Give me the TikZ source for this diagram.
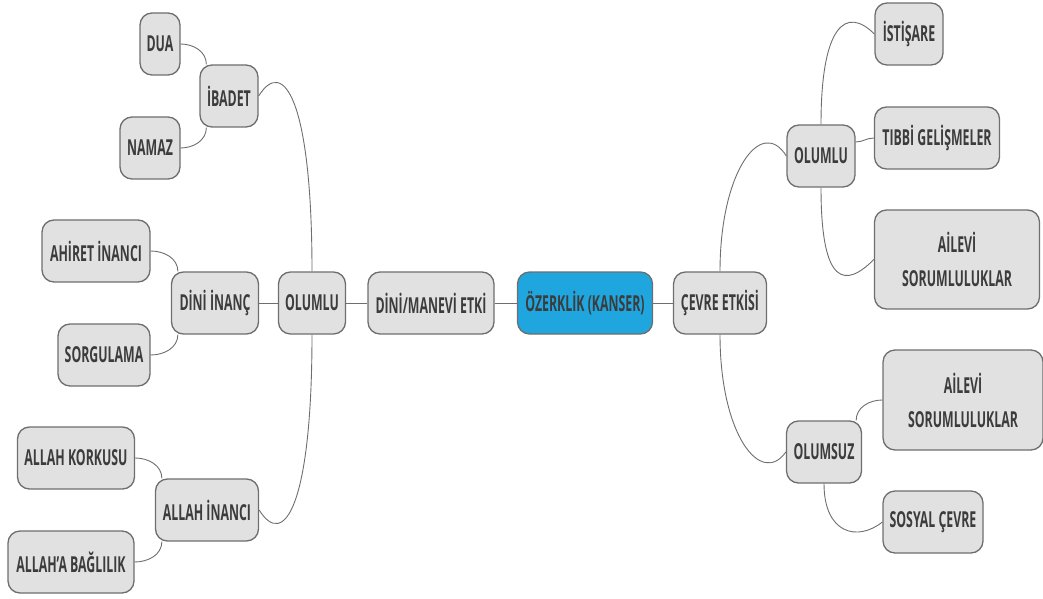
\documentclass[tikz,border=0pt]{standalone}
\usepackage{fontspec}
\setmainfont{Open Sans}[FakeStretch=0.56]
\definecolor{boxfill}{HTML}{E1E1E1}
\definecolor{boxline}{HTML}{6E6E6E}
\definecolor{boxtext}{HTML}{3C3C3C}
\definecolor{rootfill}{HTML}{1FA6DE}
\begin{document}
\begin{tikzpicture}[x=1pt, y=1pt, thin]
\useasboundingbox (0,0) rectangle (1043,598);
\tikzstyle{topic} = [rectangle, rounded corners=12pt, fill=boxfill, draw=boxline, line width=1.3pt, text=boxtext, minimum height=62pt, inner sep=2pt, align=center, font=\bfseries\fontsize{22}{26}\selectfont]
\tikzstyle{root} = [topic, fill=rootfill]
\tikzstyle{link} = [draw=boxline, line width=0.9pt]
% middle row
\node[root] (1) at (585,295) [minimum width=135pt] {ÖZERKLİK (KANSER)};
\node[topic] (2) at (431,295) [minimum width=126pt] {DİNİ/MANEVİ ETKİ};
\node[topic] (3) at (312,295) [minimum width=67pt] {OLUMLU};
\node[topic] (4) at (215,295) [minimum width=87pt] {DİNİ İNANÇ};
\node[topic] (13) at (720,295) [minimum width=93pt] {ÇEVRE ETKİSİ};
% left side
\node[topic] (5) at (229,502) [minimum width=58pt] {İBADET};
\node[topic] (6) at (207,88) [minimum width=103pt] {ALLAH İNANCI};
\node[topic] (7) at (160,554) [minimum width=40pt] {DUA};
\node[topic] (8) at (150,450) [minimum width=60pt] {NAMAZ};
\node[topic] (9) at (96,347) [minimum width=108pt] {AHİRET İNANCI};
\node[topic] (10) at (104,243) [minimum width=92pt] {SORGULAMA};
\node[topic] (11) at (76,140) [minimum width=117pt] {ALLAH KORKUSU};
\node[topic] (12) at (71,36) [minimum width=126pt] {ALLAH{\char"27}A BAĞLILIK};
% right side
\node[topic] (14) at (821,442) [minimum width=68pt] {OLUMLU};
\node[topic] (15) at (824,146) [minimum width=75pt] {OLUMSUZ};
\node[topic] (16) at (909,564) [minimum width=68pt] {İSTİŞARE};
\node[topic] (17) at (937,460) [minimum width=125pt] {TIBBİ GELİŞMELER};
\node[topic] (18) at (957,338.5) [minimum width=165pt, minimum height=99pt] {AİLEVİ\\[8pt]SORUMLULUKLAR};
\node[topic] (19) at (963,198) [minimum width=160pt, minimum height=100pt] {AİLEVİ\\[8pt]SORUMLULUKLAR};
\node[topic] (20) at (933,76) [minimum width=100pt] {SOSYAL ÇEVRE};
% connectors
\draw[link] (4) -- (3);
\draw[link] (3) -- (2);
\draw[link] (2) -- (1);
\draw[link] (1) -- (13);
\draw[link] (7.east) to[out=0, in=90] ([xshift=7pt]5.north west);
\draw[link] (8.east) to[out=0, in=-90] ([xshift=7pt]5.south west);
\draw[link] (9.east) to[out=0, in=90] ([xshift=7pt]4.north west);
\draw[link] (10.east) to[out=0, in=-90] ([xshift=7pt]4.south west);
\draw[link] (11.east) to[out=0, in=90] ([xshift=7pt]6.north west);
\draw[link] (12.east) to[out=0, in=-90] ([xshift=7pt]6.south west);
\draw[link] (5.east) .. controls +(25,40) and +(0,170) .. (3.north);
\draw[link] (6.east) .. controls +(25,-40) and +(0,-170) .. (3.south);
\draw[link] (13.north) .. controls +(0,100) and +(-25,40) .. (14.west);
\draw[link] (13.south) .. controls +(0,-100) and +(-25,-35) .. (15.west);
\draw[link] (14.north) .. controls +(0,100) and +(-28,28) .. (16.west);
\draw[link] ([yshift=14pt]14.east) to[out=0, in=180] (17.west);
\draw[link] (14.south) .. controls +(0,-100) and +(-28,-28) .. (18.west);
\draw[link] ([xshift=-6pt]15.north east) to[out=90, in=180] (19.west);
\draw[link] (15.south) .. controls +(0,-50) and +(-25,-20) .. (20.west);
\end{tikzpicture}
\end{document}
